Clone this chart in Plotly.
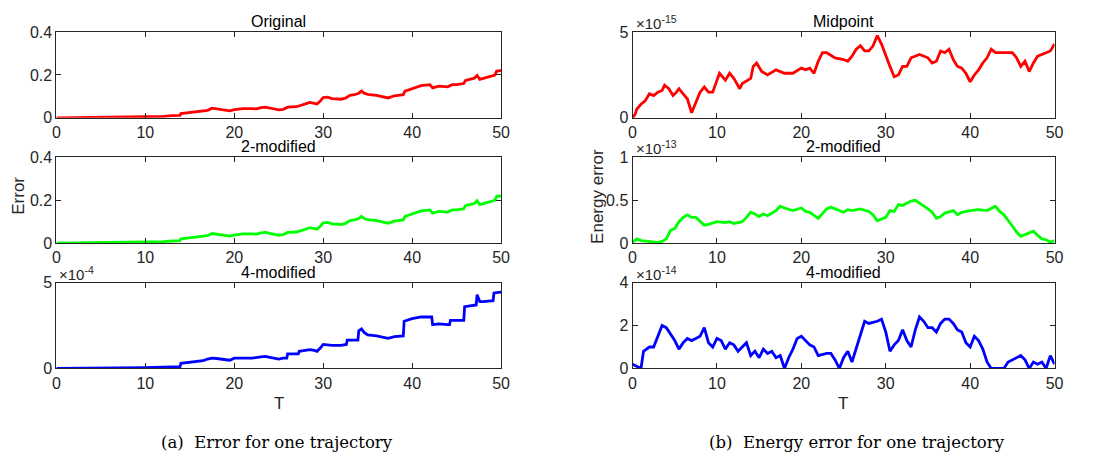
import plotly.graph_objects as go

# ---------------- data ----------------
t_orig = [0, 5, 9, 10, 12, 13, 13.9, 14, 15, 16, 17, 17.5, 18, 19, 19.5, 20, 21, 22, 22.5, 23, 23.5, 24, 25,
          25.5, 26, 27, 27.5, 28, 28.5, 29, 29.3, 29.7, 30, 30.5, 31, 32, 32.5, 33, 33.5, 34, 34.3, 34.6, 35, 36,
          37, 37.3, 38, 39, 39.2, 40, 41, 42, 42.3, 43, 44, 44.5, 45, 45.8, 46, 47, 47.3, 47.6, 48, 49, 49.3,
          49.5, 50]
err_orig = [0.0, 0.002, 0.003, 0.005, 0.007, 0.01, 0.012, 0.02, 0.025, 0.03, 0.035, 0.045, 0.042, 0.037, 0.033,
            0.038, 0.043, 0.043, 0.042, 0.048, 0.05, 0.046, 0.037, 0.04, 0.05, 0.052, 0.06, 0.065, 0.072, 0.068,
            0.065, 0.08, 0.095, 0.097, 0.09, 0.087, 0.092, 0.105, 0.108, 0.115, 0.125, 0.115, 0.11, 0.105, 0.097,
            0.093, 0.103, 0.108, 0.125, 0.135, 0.15, 0.155, 0.14, 0.148, 0.145, 0.155, 0.155, 0.16, 0.175, 0.185,
            0.198, 0.18, 0.185, 0.195, 0.2, 0.218, 0.22]

t_2mod = list(t_orig)
err_2mod = [0.0, 0.002, 0.003, 0.005, 0.007, 0.01, 0.012, 0.02, 0.025, 0.03, 0.035, 0.045, 0.042, 0.037, 0.033,
            0.038, 0.043, 0.043, 0.042, 0.048, 0.05, 0.046, 0.037, 0.04, 0.05, 0.052, 0.06, 0.065, 0.072, 0.068,
            0.065, 0.08, 0.095, 0.097, 0.09, 0.087, 0.092, 0.105, 0.108, 0.115, 0.125, 0.115, 0.11, 0.105, 0.097,
            0.093, 0.103, 0.108, 0.125, 0.135, 0.15, 0.155, 0.14, 0.148, 0.145, 0.155, 0.155, 0.16, 0.175, 0.185,
            0.198, 0.18, 0.185, 0.195, 0.2, 0.218, 0.22]

# 4-modified error, in units of 1e-4
t_4mod = [0, 5, 9, 10, 12, 13.9, 14, 15, 16, 16.5, 17, 17.5, 18, 19, 19.5, 20, 21, 22, 23, 23.5, 24, 25, 25.5,
          25.9, 26, 27, 27.2, 27.3, 28, 28.5, 29, 29.3, 29.7, 30, 31, 32, 32.6, 32.7, 33.5, 33.9, 34, 34.3, 34.6,
          35, 36, 37, 37.3, 38, 39, 39.1, 40, 41, 42.2, 42.3, 43, 44, 44.2, 44.3, 45, 45.8, 45.9, 47, 47.2, 47.3,
          47.6, 48, 49, 49.1, 49.2, 50]
err_4mod = [0.0, 0.01, 0.02, 0.05, 0.08, 0.1, 0.3, 0.35, 0.4, 0.45, 0.55, 0.6, 0.58, 0.5, 0.48, 0.6, 0.62, 0.6,
            0.68, 0.7, 0.65, 0.55, 0.6, 0.6, 0.85, 0.85, 0.85, 1.0, 1.05, 1.1, 1.05, 1.0, 1.2, 1.4, 1.35, 1.35,
            1.4, 1.65, 1.65, 1.65, 2.2, 2.3, 2.1, 1.95, 1.9, 1.8, 1.75, 1.85, 1.9, 2.75, 2.9, 3.0, 3.0, 2.55, 2.6,
            2.55, 2.55, 2.8, 2.8, 2.8, 3.6, 3.7, 3.7, 4.3, 3.9, 3.9, 3.95, 3.95, 4.4, 4.45]

# Midpoint energy error, in units of 1e-15
t_mid = [0, 0.3, 0.5, 1, 1.5, 2, 2.5, 3, 3.5, 3.8, 4.3, 4.8, 5.2, 5.5, 6, 6.5, 7, 7.5, 8, 8.5, 9, 9.5, 10,
         10.3, 11, 11.5, 12, 12.7, 13, 14, 14.3, 14.7, 15.3, 16, 17, 18, 19, 20, 20.5, 21, 21.5, 22, 22.5, 23,
         24, 25, 25.5, 26, 26.5, 27, 27.5, 28, 28.5, 29, 29.5, 30, 30.5, 31, 31.5, 32, 32.5, 33, 34, 35, 35.5,
         36, 36.5, 37, 37.5, 38, 38.5, 39, 39.5, 40, 40.5, 41, 41.5, 42, 42.5, 43, 44, 45, 45.5, 46, 46.5, 47,
         47.5, 48, 49, 49.5, 50]
en_mid = [0.0, 0.2, 0.5, 0.8, 1.0, 1.4, 1.3, 1.5, 1.6, 1.9, 1.7, 1.3, 1.5, 1.7, 1.4, 1.1, 0.3, 0.9, 1.5, 1.8,
          1.5, 1.5, 2.2, 2.6, 2.2, 2.6, 2.3, 1.7, 2.0, 2.3, 3.0, 3.2, 2.7, 2.5, 2.8, 2.6, 2.6, 2.9, 2.8, 2.9, 2.6,
          3.3, 3.8, 3.8, 3.5, 3.4, 3.3, 3.6, 4.0, 4.2, 3.9, 3.9, 4.2, 4.8, 4.3, 3.6, 3.0, 2.4, 2.5, 3.0, 3.0,
          3.5, 3.7, 3.5, 3.2, 3.3, 3.9, 3.8, 4.0, 3.4, 3.0, 2.9, 2.6, 2.1, 2.5, 2.8, 3.2, 3.5, 4.0, 3.8, 3.8,
          3.8, 3.5, 3.0, 3.3, 2.7, 3.2, 3.6, 3.8, 3.9, 4.3]

# 2-modified energy error, in units of 1e-13
t_e2 = [0, 0.5, 1, 2, 2.5, 3, 3.5, 4, 4.5, 5, 5.5, 6, 6.5, 7, 7.5, 8, 8.5, 9, 10, 11, 11.5, 12, 13, 13.5, 14,
        14.5, 15, 15.5, 16, 17, 17.5, 18, 19, 20, 20.5, 21, 22, 23, 23.5, 24, 25, 25.5, 26, 27, 28, 28.5, 29,
        30, 30.5, 31, 31.5, 32, 33, 33.5, 34, 35, 35.5, 36, 36.5, 37, 38, 38.5, 39, 40, 41, 42, 43, 43.5, 44,
        44.5, 45, 45.5, 46, 46.5, 47, 47.5, 48, 48.5, 49, 49.5, 50]
en_2mod = [0.01, 0.05, 0.03, 0.02, 0.01, 0.01, 0.02, 0.05, 0.15, 0.17, 0.25, 0.3, 0.33, 0.3, 0.3, 0.25, 0.21,
           0.22, 0.25, 0.24, 0.25, 0.23, 0.25, 0.3, 0.36, 0.34, 0.31, 0.34, 0.32, 0.38, 0.43, 0.41, 0.38, 0.41,
           0.37, 0.36, 0.29, 0.4, 0.42, 0.4, 0.36, 0.39, 0.38, 0.4, 0.37, 0.33, 0.26, 0.3, 0.38, 0.37, 0.45,
           0.44, 0.49, 0.5, 0.47, 0.4, 0.36, 0.29, 0.31, 0.35, 0.38, 0.33, 0.36, 0.38, 0.39, 0.38, 0.43, 0.37,
           0.33, 0.27, 0.2, 0.13, 0.08, 0.1, 0.12, 0.14, 0.09, 0.05, 0.04, 0.01, 0.03]

# 4-modified energy error, in units of 1e-14
t_e4 = [0, 0.5, 1, 1.3, 2, 2.5, 3, 3.5, 4, 4.5, 5, 5.5, 6, 6.5, 7, 7.5, 8, 8.5, 9, 9.5, 10, 10.5, 11, 11.5,
        12, 12.5, 13, 13.5, 14, 14.5, 15, 15.5, 16, 16.5, 17, 17.5, 18, 18.5, 19, 19.5, 20, 20.5, 21, 21.5, 22,
        23, 23.5, 24, 24.5, 25, 25.5, 26, 26.5, 27, 27.5, 28, 29, 29.5, 30, 30.5, 31, 31.5, 32, 32.5, 33, 33.5,
        34, 34.5, 35, 35.5, 36, 36.5, 37, 37.5, 38, 38.5, 39, 39.5, 40, 40.5, 41, 41.5, 42, 42.5, 43, 44, 44.5,
        45, 45.5, 46, 46.5, 47, 47.5, 48, 48.5, 49, 49.5, 50]
en_4mod = [0.2, 0.1, 0.0, 0.8, 1.0, 1.0, 1.5, 2.0, 1.9, 1.6, 1.3, 0.9, 1.2, 1.4, 1.3, 1.4, 1.5, 1.9, 1.2, 1.0,
           1.4, 1.3, 0.9, 1.2, 1.1, 0.8, 1.0, 1.2, 0.6, 0.8, 0.5, 0.9, 0.7, 0.8, 0.5, 0.6, 0.0, 0.5, 0.9, 1.4,
           1.5, 1.3, 1.1, 1.0, 0.6, 0.7, 0.7, 0.4, 0.0, 0.5, 0.8, 0.3, 0.9, 1.6, 2.2, 2.1, 2.2, 2.3, 1.7, 0.8,
           1.1, 1.3, 1.8, 1.3, 1.0, 1.8, 2.4, 2.2, 1.9, 1.9, 1.7, 2.1, 2.3, 2.3, 2.1, 1.8, 1.7, 1.2, 1.0, 1.5,
           1.3, 0.9, 0.3, 0.0, 0.0, 0.0, 0.3, 0.4, 0.5, 0.6, 0.4, 0.0, 0.3, 0.2, 0.3, 0.0, 0.6, 0.2]

x_ticks = [0, 10, 20, 30, 40, 50]

panels = [
    # (t, values, colour, title, yrange, yticks, yticktext, exponent label)
    (t_orig, err_orig, "#ff0000", "Original", [0, 0.4], [0, 0.2, 0.4], ["0", "0.2", "0.4"], None),
    (t_2mod, err_2mod, "#00ff00", "2-modified", [0, 0.4], [0, 0.2, 0.4], ["0", "0.2", "0.4"], None),
    (t_4mod, err_4mod, "#0000ff", "4-modified", [0, 5], [0, 5], ["0", "5"], "-4"),
    (t_mid, en_mid, "#ff0000", "Midpoint", [0, 5], [0, 5], ["0", "5"], "-15"),
    (t_e2, en_2mod, "#00ff00", "2-modified", [0, 1], [0, 0.5, 1], ["0", "0.5", "1"], "-13"),
    (t_e4, en_4mod, "#0000ff", "4-modified", [0, 4], [0, 2, 4], ["0", "2", "4"], "-14"),
]

W, H = 1109, 469
col_px = [(53, 503), (636, 1063)]
row_px = [(25, 114), (155, 244), (285, 374)]

FONT = "Arial"
SERIF = "DejaVu Serif"
AX = "#262626"

fig = go.Figure()
annotations = []
for i, (t, v, col, title, yr, yt, ytt, expo) in enumerate(panels):
    c = i // 3
    r = i % 3
    n = i + 1
    xa = "xaxis" if n == 1 else f"xaxis{n}"
    ya = "yaxis" if n == 1 else f"yaxis{n}"
    xref = "x" if n == 1 else f"x{n}"
    yref = "y" if n == 1 else f"y{n}"
    x0, x1 = col_px[c]
    top, bot = row_px[r]
    fig.add_trace(go.Scatter(x=t, y=v, mode="lines", line=dict(color=col, width=2.8),
                             xaxis=xref, yaxis=yref, showlegend=False, hoverinfo="skip"))
    common = dict(showline=True, linecolor=AX, linewidth=1, mirror="ticks", ticks="inside",
                  ticklen=5, tickcolor=AX, showgrid=False, zeroline=False,
                  tickfont=dict(family=FONT, size=16, color=AX))
    fig.update_layout(**{
        xa: dict(domain=[x0 / W, x1 / W], range=[0, 50], tickvals=x_ticks, anchor=yref, **common),
        ya: dict(domain=[1 - bot / H, 1 - top / H], range=yr, tickvals=yt, ticktext=ytt, anchor=xref,
                 **common),
    })
    annotations.append(dict(x=(x0 + x1) / 2 / W, y=1 - (top - 11) / H, xref="paper", yref="paper",
                            text=title, showarrow=False, xanchor="center", yanchor="middle",
                            font=dict(family=FONT, size=16, color="#000000")))
    if expo is not None:
        annotations.append(dict(x=(x0 + 1) / W, y=1 - (top - 10) / H, xref="paper", yref="paper",
                                text=f"×10<sup>{expo}</sup>", showarrow=False, xanchor="left",
                                yanchor="middle", font=dict(family=FONT, size=15, color=AX)))

# axis labels and captions
annotations += [
    dict(x=15 / W, y=1 - 195 / H, text="Error", textangle=-90, showarrow=False, xref="paper", yref="paper",
         xanchor="center", yanchor="middle", font=dict(family=FONT, size=17, color=AX)),
    dict(x=601 / W, y=1 - 195 / H, text="Energy error", textangle=-90, showarrow=False, xref="paper",
         yref="paper", xanchor="center", yanchor="middle", font=dict(family=FONT, size=17, color=AX)),
    dict(x=278 / W, y=1 - 410 / H, text="T", showarrow=False, xref="paper", yref="paper",
         xanchor="center", yanchor="middle", font=dict(family=FONT, size=17, color=AX)),
    dict(x=849 / W, y=1 - 410 / H, text="T", showarrow=False, xref="paper", yref="paper",
         xanchor="center", yanchor="middle", font=dict(family=FONT, size=17, color=AX)),
    dict(x=276 / W, y=1 - 451 / H, text="(a)  Error for one trajectory", showarrow=False, xref="paper",
         yref="paper", xanchor="center", yanchor="middle",
         font=dict(family=SERIF, size=16.5, color="#000000")),
    dict(x=863 / W, y=1 - 451 / H, text="(b)  Energy error for one trajectory", showarrow=False,
         xref="paper", yref="paper", xanchor="center", yanchor="middle",
         font=dict(family=SERIF, size=16.5, color="#000000")),
]

fig.update_layout(width=W, height=H, margin=dict(l=0, r=0, t=0, b=0), plot_bgcolor="white",
                  paper_bgcolor="white", annotations=annotations, showlegend=False)

fig.write_html("out.html", post_script="document.body.style.margin='0px';")
